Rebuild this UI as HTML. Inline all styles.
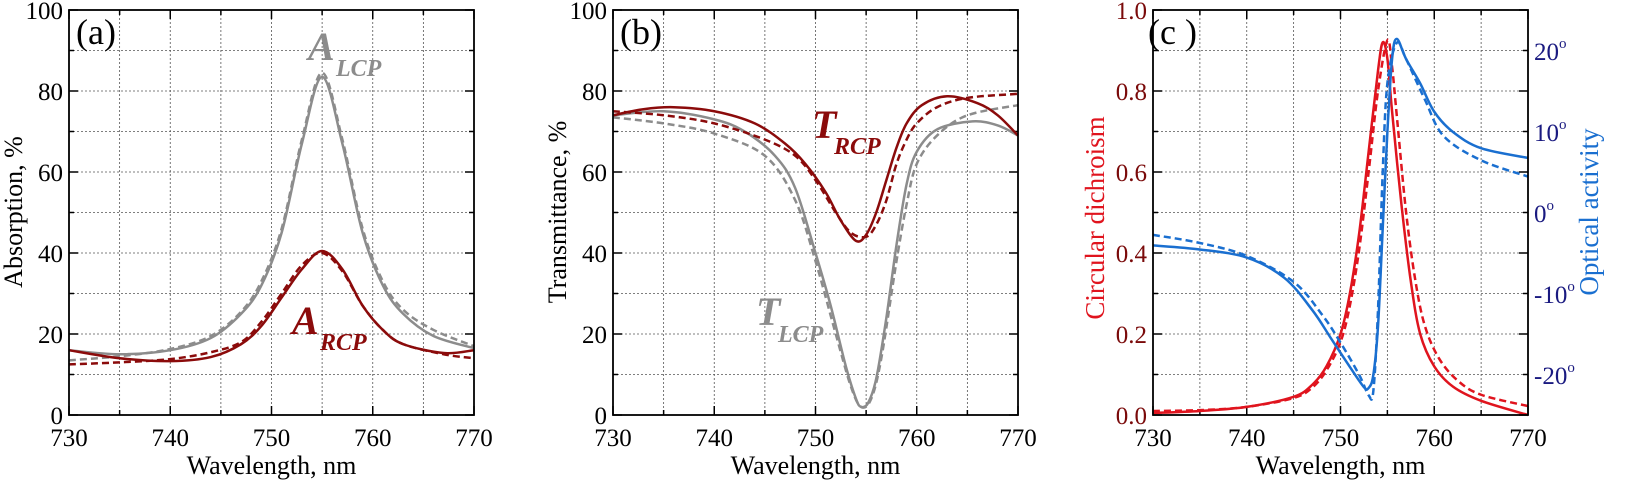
<!DOCTYPE html>
<html><head><meta charset="utf-8"><style>
html,body{margin:0;padding:0;background:#fff;}
svg{display:block;}
svg text{font-family:"Liberation Serif","DejaVu Serif","Times New Roman",serif !important;}
</style></head><body>
<svg id="s" width="1645" height="481" xmlns="http://www.w3.org/2000/svg" font-family="Liberation Serif, DejaVu Serif, serif"></svg>
<script>
const S=document.getElementById('s');let h='<g font-family="Liberation Serif, DejaVu Serif, serif">';
const T=415,B=10;
function grid(L,R){
 let g='';for(let i=1;i<8;i++){const x=L+(R-L)*i/8;g+=`<line x1="${x}" y1="${B}" x2="${x}" y2="${T}" stroke="#555" stroke-width="0.8" stroke-dasharray="2,2"/>`;}
 for(let i=1;i<10;i++){const y=T-(T-B)*i/10;g+=`<line x1="${L}" y1="${y}" x2="${R}" y2="${y}" stroke="#555" stroke-width="0.8" stroke-dasharray="2,2"/>`;}
 for(let i=0;i<=8;i++){const x=L+(R-L)*i/8,l=i%2?5:9;g+=`<line x1="${x}" y1="${T}" x2="${x}" y2="${T-l}" stroke="#000" stroke-width="1.5"/><line x1="${x}" y1="${B}" x2="${x}" y2="${B+l}" stroke="#000" stroke-width="1.5"/>`;}
 for(let i=0;i<=10;i++){const y=T-(T-B)*i/10,l=i%2?5:9;g+=`<line x1="${L}" y1="${y}" x2="${L+l}" y2="${y}" stroke="#000" stroke-width="1.5"/><line x1="${R}" y1="${y}" x2="${R-l}" y2="${y}" stroke="#000" stroke-width="1.5"/>`;}
 for(let i=0;i<=4;i++){g+=`<text x="${L+(R-L)*i/4}" y="446" font-size="25" text-anchor="middle">${730+10*i}</text>`;}
 g+=`<text x="${(L+R)/2}" y="474" font-size="26" text-anchor="middle">Wavelength, nm</text>`;
 return g;}
function path(pts,fx,fy,col,dash,w){
 const p=pts.map(q=>[fx(q[0]),fy(q[1])]);let d=`M${p[0][0]},${p[0][1]}`;
 for(let i=0;i<p.length-1;i++){const p0=p[Math.max(0,i-1)],p1=p[i],p2=p[i+1],p3=p[Math.min(p.length-1,i+2)];
  d+=` C${p1[0]+(p2[0]-p0[0])/6},${p1[1]+(p2[1]-p0[1])/6} ${p2[0]-(p3[0]-p1[0])/6},${p2[1]-(p3[1]-p1[1])/6} ${p2[0]},${p2[1]}`;}
 return `<path d="${d}" fill="none" stroke="${col}" stroke-width="${w||2.5}" ${dash?'stroke-dasharray="7,4"':''}/>`;}
const DR='#8b0b0b',GR='#8c8c8c',RD='#e0141e',BL='#1a6fd0';
// Panel a
{const L=69,R=474,fx=x=>L+(x-730)*(R-L)/40,fy=y=>T-y*(T-B)/100;
 h+=grid(L,R);
 for(let i=0;i<=5;i++)h+=`<text x="${L-6}" y="${T-(T-B)*i/5+9}" font-size="25" text-anchor="end">${20*i}</text>`;
 h+=`<text transform="translate(22,212) rotate(-90)" font-size="26" text-anchor="middle">Absorption, %</text>`;
 h+=path([[730,13.5],[735,14.5],[740,16.3],[744,19.5],[747,25.5],[749,33],[751,46],[753,68],[755,84.5],[757,68],[759,46],[761,33],[763,26],[766,21],[770,17]],fx,fy,GR,true);
 h+=path([[730,16],[735,15],[740,16],[744,19],[747,25],[749,32],[751,45],[753,67],[755,83.5],[757,67],[759,45],[761,32],[763,25],[766,19.5],[770,16.5]],fx,fy,GR,false);
 h+=path([[730,12.5],[735,13],[740,13.8],[744,15.5],[747,18],[749,23],[751,30],[753,37],[755,40],[757,35.5],[759,27],[761,21],[763,17.5],[767,15],[770,14]],fx,fy,DR,true);
 h+=path([[730,16],[735,14],[740,13.3],[744,14.3],[747,17.5],[749,22],[751,29],[753,36],[755,40.5],[757,36],[759,27],[761,21],[763,17.5],[767,15.3],[770,16]],fx,fy,DR,false);
 h+=`<text x="76" y="44" font-size="36">(a)</text>`;
 h+=`<text x="308" y="60" font-size="40" font-style="italic" font-weight="bold" fill="${GR}">A</text><text x="336" y="76" font-size="24" font-style="italic" font-weight="bold" fill="${GR}">LCP</text>`;
 h+=`<text x="292" y="334" font-size="40" font-style="italic" font-weight="bold" fill="${DR}">A</text><text x="320" y="350" font-size="24" font-style="italic" font-weight="bold" fill="${DR}">RCP</text>`;
 h+=`<rect x="${L}" y="${B}" width="${R-L}" height="${T-B}" fill="none" stroke="#000" stroke-width="1.8"/>`;}
// Panel b
{const L=613,R=1018,fx=x=>L+(x-730)*(R-L)/40,fy=y=>T-y*(T-B)/100;
 h+=grid(L,R);
 for(let i=0;i<=5;i++)h+=`<text x="${L-6}" y="${T-(T-B)*i/5+9}" font-size="25" text-anchor="end">${20*i}</text>`;
 h+=`<text transform="translate(566,212) rotate(-90)" font-size="26" text-anchor="middle">Transmittance, %</text>`;
 h+=path([[730,73.5],[735,72],[740,69.5],[745,64],[748,53],[750,38],[752,20],[753.5,7],[754.5,2],[755.5,4],[756.5,14],[758,38],[759,52],[760,62],[762,69],[765,74],[770,76.5]],fx,fy,GR,true);
 h+=path([[730,74],[735,75],[740,73],[743,70],[746,64],[748,56],[750,40],[751.5,27],[753,12],[754,4],[754.5,2],[755.2,3],[756,9],[757,24],[758,42],[759,57],[760,65],[762,70.5],[765.5,72.5],[768,71.5],[770,69]],fx,fy,GR,false);
 h+=path([[730,75],[735,74],[740,72],[745,68],[748,64],[750,58],[752,50],[753.5,45],[755,44],[756,47],[757,53],[758,62],[759,68],[760,72],[762,76],[765,78.3],[770,79.3]],fx,fy,DR,true);
 h+=path([[730,74],[733,75.5],[736,76],[740,75],[744,72],[747,67],[749,62],[751,55],[752.5,48],[754,43],[755,44.5],[756,50],[757,58],[758,66],[759,72],[760.5,76.5],[763,78.7],[766,77],[768,74],[770,69]],fx,fy,DR,false);
 h+=`<text x="620" y="44" font-size="36">(b)</text>`;
 h+=`<text x="812" y="138" font-size="40" font-style="italic" font-weight="bold" fill="${DR}">T</text><text x="834" y="154" font-size="24" font-style="italic" font-weight="bold" fill="${DR}">RCP</text>`;
 h+=`<text x="756" y="325" font-size="40" font-style="italic" font-weight="bold" fill="${GR}">T</text><text x="778" y="342" font-size="24" font-style="italic" font-weight="bold" fill="${GR}">LCP</text>`;
 h+=`<rect x="${L}" y="${B}" width="${R-L}" height="${T-B}" fill="none" stroke="#000" stroke-width="1.8"/>`;}
// Panel c
{const L=1153,R=1528,fx=x=>L+(x-730)*(R-L)/40,fy=y=>T-y*(T-B),fd=d=>213-8.1*d;
 h+=grid(L,R);
 for(let i=0;i<=5;i++)h+=`<text x="${L-6}" y="${T-(T-B)*i/5+9}" font-size="25" text-anchor="end" fill="#7a0a0a">${(0.2*i).toFixed(1)}</text>`;
 [20,10,0,-10,-20].forEach(d=>{h+=`<text x="${R+6}" y="${fd(d)+9}" font-size="25" fill="#1a1a80">${d}<tspan font-size="15" dy="-12">o</tspan></text>`;});
 h+=`<text transform="translate(1104,218) rotate(-90)" font-size="27" text-anchor="middle" fill="${RD}">Circular dichroism</text>`;
 h+=`<text transform="translate(1598,212) rotate(-90)" font-size="27" text-anchor="middle" fill="${BL}">Optical activity</text>`;
 h+=path([[730,0.01],[735,0.012],[740,0.02],[745,0.042],[747,0.068],[748.5,0.11],[750,0.18],[751,0.27],[752,0.41],[753,0.6],[754,0.8],[755,0.925],[755.5,0.86],[756,0.74],[757,0.5],[758,0.33],[759,0.22],[760.5,0.14],[762.5,0.085],[765,0.05],[770,0.022]],fx,fy,RD,true);
 h+=path([[730,0.005],[735,0.01],[740,0.02],[745,0.045],[747,0.075],[748.5,0.12],[750,0.2],[751,0.3],[752,0.45],[753,0.65],[754,0.85],[754.5,0.92],[755,0.88],[755.5,0.75],[756.5,0.52],[757.5,0.33],[758.5,0.2],[760,0.12],[762,0.07],[765,0.035],[770,0.0]],fx,fy,RD,false);
 h+=path([[730,-2.7],[735,-3.7],[740,-5.3],[745,-8.5],[748,-12.5],[750,-16],[752,-20],[753,-22.5],[753.5,-22],[754,-12],[754.5,5],[755,16],[756,21],[757,19],[759,14],[761,9.5],[765,6.5],[770,4.5]],fx,fd,BL,true);
 h+=path([[730,-4],[735,-4.5],[740,-5.5],[744,-8],[747,-12],[749,-15.5],[751,-19],[752.5,-21.5],[753,-21.6],[753.5,-20],[754,-14],[754.5,-2],[755,10],[755.5,19],[756,21.5],[757,19],[758.5,16],[760,12.5],[762,10],[765,8],[770,6.8]],fx,fd,BL,false);
 h+=`<text x="1148" y="44" font-size="36">(c )</text>`;
 h+=`<rect x="${L}" y="${B}" width="${R-L}" height="${T-B}" fill="none" stroke="#000" stroke-width="1.8"/>`;}
h+='</g>';
S.innerHTML=h;
</script>
</body></html>
